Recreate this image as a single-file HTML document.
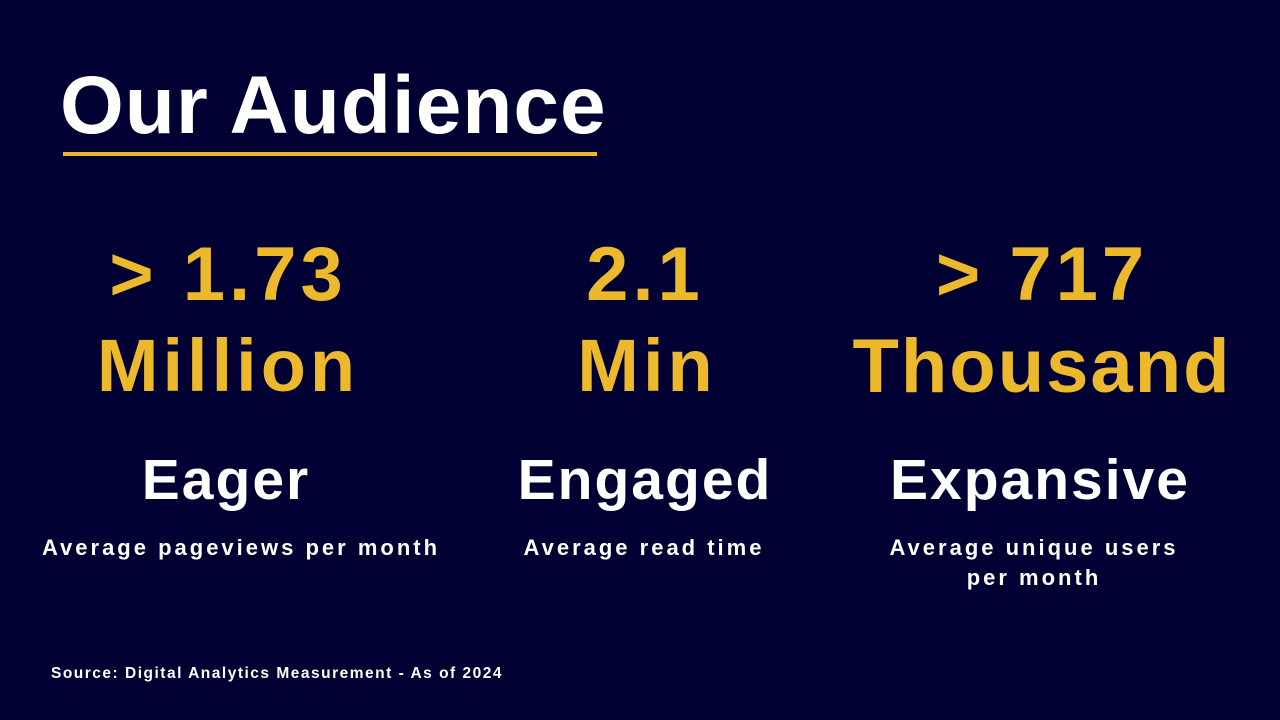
<!DOCTYPE html>
<html><head><meta charset="utf-8"><style>
html,body{margin:0;padding:0}
body{width:1280px;height:720px;background:#000033;position:relative;overflow:hidden;font-family:"Liberation Sans",Arial,sans-serif;font-weight:bold}
.t{position:absolute;line-height:1;white-space:nowrap}
.c{transform:translateX(-50%);text-align:center}
.y{color:#EBB92B}
.w{color:#fff}
.big{font-size:76px;letter-spacing:4px}
.mid{font-size:57px;letter-spacing:2px}
.d{font-size:22px;line-height:30px;letter-spacing:3px}
</style></head><body>
<div class="t w" style="left:60px;top:65px;font-size:82px;letter-spacing:1px">Our Audience</div>
<div style="position:absolute;left:63px;top:152px;width:534px;height:4px;background:#EBB92B"></div>

<div class="t y c big" style="left:228px;top:237px">&gt; 1.73</div>
<div class="t y c" style="left:228px;top:329px;font-size:74px;letter-spacing:4px">Million</div>
<div class="t y c big" style="left:645px;top:237px">2.1</div>
<div class="t y c" style="left:647px;top:329px;font-size:74px;letter-spacing:4px">Min</div>
<div class="t y c big" style="left:1042px;top:237px">&gt; 717</div>
<div class="t y c" style="left:1042px;top:329px;font-size:76px;letter-spacing:2px">Thousand</div>

<div class="t w c mid" style="left:226px;top:452px">Eager</div>
<div class="t w c mid" style="left:645px;top:452px">Engaged</div>
<div class="t w c mid" style="left:1040px;top:452px">Expansive</div>

<div class="t w c d" style="left:241px;top:533px">Average pageviews per month</div>
<div class="t w c d" style="left:644px;top:533px">Average read time</div>
<div class="t w c d" style="left:1034px;top:533px">Average unique users<br>per month</div>

<div class="t w" style="left:51px;top:666px;font-size:15.5px;letter-spacing:1.5px">Source: Digital Analytics Measurement - As of 2024</div>
</body></html>
